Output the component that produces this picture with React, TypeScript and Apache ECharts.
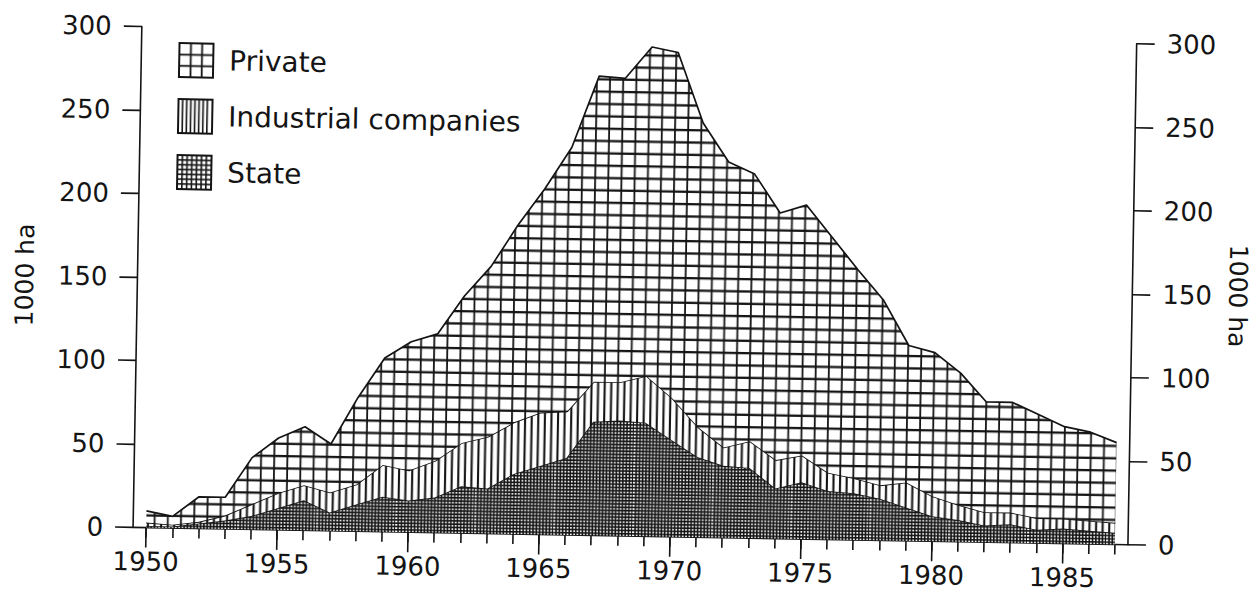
import React, { useEffect, useRef } from "react";
import * as echarts from "echarts";

// ---- data (1000 ha) ----
const years = [
  "1950", "1951", "1952", "1953", "1954", "1955", "1956", "1957", "1958", "1959",
  "1960", "1961", "1962", "1963", "1964", "1965", "1966", "1967", "1968", "1969",
  "1970", "1971", "1972", "1973", "1974", "1975", "1976", "1977", "1978", "1979",
  "1980", "1981", "1982", "1983", "1984", "1985", "1986", "1987",
];
const stateValues = [
  1, 1, 3, 5, 8, 13, 18, 11, 16, 21,
  19, 21, 28, 27, 36, 41, 46, 68, 69, 68,
  58, 48, 43, 42, 30, 34, 29, 28, 25, 20,
  15, 13, 10, 11, 8, 9, 8, 7,
];
const industrialValues = [
  2, 1, 1, 3, 7, 9, 9, 12, 12, 19,
  18, 22, 26, 31, 31, 32, 28, 24, 23, 28,
  25, 18, 11, 16, 17, 16, 11, 9, 8, 15,
  12, 9, 8, 7, 7, 6, 6, 6,
];
const privateValues = [
  7, 5, 15, 11, 28, 33, 35, 29, 52, 64,
  77, 76, 88, 102, 118, 134, 158, 183, 182, 197,
  207, 182, 171, 160, 148, 150, 141, 125, 111, 82,
  86, 79, 66, 66, 62, 55, 53, 48,
];
const seriesNames = ["State", "Industrial companies", "Private"];
const legendOrder = ["Private", "Industrial companies", "State"];
const axisName = "1000 ha";
const yMin = 0;
const yMax = 300;
const yInterval = 50;

const INK = "#141414";
const FONT = "DejaVu Sans";

type Draw = (ctx: CanvasRenderingContext2D, w: number, h: number) => void;

function makePattern(w: number, h: number, draw: Draw) {
  const c = document.createElement("canvas");
  c.width = w;
  c.height = h;
  const ctx = c.getContext("2d") as CanvasRenderingContext2D;
  ctx.fillStyle = "#ffffff";
  ctx.fillRect(0, 0, w, h);
  ctx.fillStyle = INK;
  draw(ctx, w, h);
  return { image: c, repeat: "repeat", imageWidth: w, imageHeight: h } as any;
}

function vLines(ctx: CanvasRenderingContext2D, w: number, h: number, start: number, step: number, lw: number) {
  for (let x = start % step; x < w + lw; x += step) {
    ctx.fillRect(x - lw / 2, 0, lw, h);
    if (x - lw / 2 < 0) ctx.fillRect(x - lw / 2 + w, 0, lw, h);
  }
}
function hLines(ctx: CanvasRenderingContext2D, w: number, h: number, start: number, step: number, lw: number) {
  for (let y = start % step; y < h + lw; y += step) {
    ctx.fillRect(0, y - lw / 2, w, lw);
    if (y - lw / 2 < 0) ctx.fillRect(0, y - lw / 2 + h, w, lw);
  }
}

export default function App() {
  const ref = useRef<HTMLDivElement>(null);

  useEffect(() => {
    if (!ref.current) return;
    const chart = echarts.init(ref.current, undefined, { renderer: "svg" });

    // area fills
    const privateFill = makePattern(79, 37, (ctx, w, h) => {
      vLines(ctx, w, h, 9.6, 79 / 6, 1.8);
      hLines(ctx, w, h, 5.8, 37 / 3, 2.3);
    });
    const industrialFill = makePattern(79, 8, (ctx, w, h) => {
      vLines(ctx, w, h, 9.6, 79 / 12, 2.1);
    });
    const stateFill = makePattern(79, 33, (ctx, w, h) => {
      vLines(ctx, w, h, 9.6, 79 / 24, 1.6);
      hLines(ctx, w, h, 5.8, 33 / 10, 1.6);
    });
    // legend icon fills
    const privateIcon = makePattern(34, 34, (ctx) => {
      ctx.fillRect(10.6, 0, 1.8, 34);
      ctx.fillRect(21.8, 0, 1.8, 34);
      ctx.fillRect(0, 10.6, 34, 1.8);
      ctx.fillRect(0, 21.8, 34, 1.8);
    });
    const industrialIcon = makePattern(34, 34, (ctx) => {
      for (let x = 4.2; x < 32; x += 4.1) ctx.fillRect(x - 0.8, 0, 1.6, 34);
    });
    const stateIcon = makePattern(34, 34, (ctx) => {
      for (let x = 4.8; x < 32; x += 4.8) ctx.fillRect(x - 0.8, 0, 1.6, 34);
      for (let y = 4.8; y < 32; y += 4.8) ctx.fillRect(0, y - 0.8, 34, 1.6);
    });

    const fills: Record<string, any> = {
      State: stateFill,
      "Industrial companies": industrialFill,
      Private: privateFill,
    };
    const icons: Record<string, any> = {
      State: stateIcon,
      "Industrial companies": industrialIcon,
      Private: privateIcon,
    };
    const values: Record<string, number[]> = {
      State: stateValues,
      "Industrial companies": industrialValues,
      Private: privateValues,
    };

    const tickText = { fontFamily: FONT, fontSize: 26, color: INK };
    const nameText = { fontFamily: FONT, fontSize: 25, color: INK };
    const lineStyle = { color: INK, width: 1.6 };

    const yAxisBase = {
      type: "value",
      min: yMin,
      max: yMax,
      interval: yInterval,
      axisLine: { show: true, lineStyle },
      axisTick: { show: true, length: 18, lineStyle },
      axisLabel: { ...tickText, margin: 30 },
      splitLine: { show: false },
      name: axisName,
      nameLocation: "middle",
      nameTextStyle: nameText,
    };

    chart.setOption({
      animation: false,
      backgroundColor: "#ffffff",
      grid: { left: 130, right: 128, top: 35, bottom: 61, containLabel: false },
      legend: {
        orient: "vertical",
        left: 170,
        top: 50,
        padding: 0,
        itemGap: 20,
        itemWidth: 34,
        itemHeight: 34,
        icon: "rect",
        selectedMode: false,
        textStyle: { fontFamily: FONT, fontSize: 28, color: INK, padding: [0, 0, 0, 11] },
        data: legendOrder.map((n) => ({
          name: n,
          itemStyle: { color: icons[n], borderColor: INK, borderWidth: 2 },
        })),
      },
      xAxis: [
        {
          type: "category",
          data: years,
          boundaryGap: true,
          position: "bottom",
          axisLine: { show: true, lineStyle },
          axisTick: { show: true, alignWithLabel: true, interval: 0, length: 10, lineStyle },
          axisLabel: { show: false },
          splitLine: { show: false },
        },
        {
          type: "category",
          data: years,
          boundaryGap: true,
          position: "bottom",
          axisLine: { show: false },
          axisTick: { show: true, alignWithLabel: true, interval: 4, length: 20, lineStyle },
          axisLabel: { ...tickText, interval: 4, margin: 21 },
          splitLine: { show: false },
        },
      ],
      yAxis: [
        { ...yAxisBase, position: "left", nameRotate: 90, nameGap: 100 },
        { ...yAxisBase, position: "right", nameRotate: -90, nameGap: 93 },
      ],
      series: seriesNames.map((n, i) => ({
        name: n,
        type: "line",
        stack: "forest",
        xAxisIndex: 0,
        yAxisIndex: 0,
        data: values[n],
        symbol: "none",
        showSymbol: false,
        z: 2 + i,
        lineStyle: { color: INK, width: 1.7 },
        itemStyle: { color: INK },
        areaStyle: { color: fills[n], opacity: 1 },
      })),
    });

    return () => chart.dispose();
  }, []);

  return (
    <div
      ref={ref}
      style={{
        position: "absolute",
        left: 0,
        top: 0,
        width: 1256,
        height: 597,
        transformOrigin: "628px 536px",
        transform: "rotate(1deg)",
        background: "#fff",
      }}
    />
  );
}
